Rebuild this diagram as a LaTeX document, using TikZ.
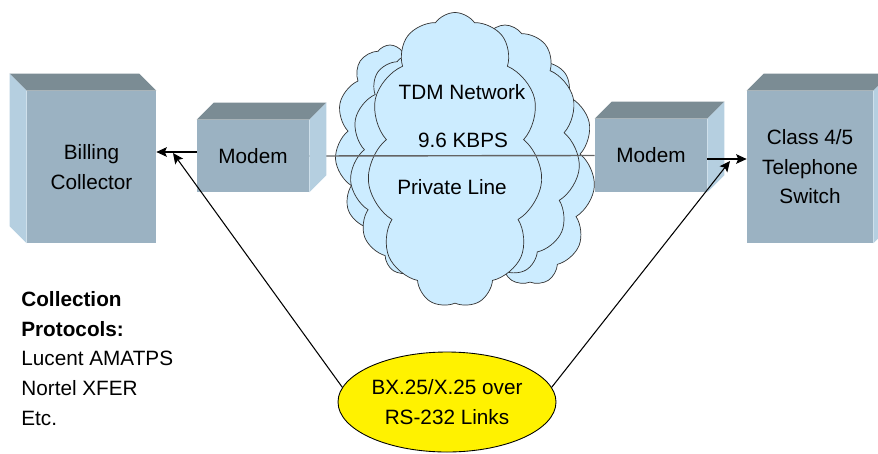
\documentclass[tikz,border=0pt]{standalone}
\usepackage{fontspec}
\setmainfont{Liberation Sans}
\usepackage{tikz}
\usetikzlibrary{
    arrows.meta,
    positioning,
    shapes.geometric,
    shapes.symbols
}
\usepackage{xcolor}

\definecolor{boxfront}{RGB}{155,178,194}
\definecolor{boxtop}{RGB}{123,140,148}
\definecolor{boxside}{RGB}{181,207,224}
\definecolor{cloudblue}{RGB}{204,236,255}
\definecolor{linegray}{RGB}{100,100,100}

\begin{document}
\begin{tikzpicture}[
        x=1cm, y=-1cm,
        >={Stealth[length=6pt,width=5.5pt,inset=1.2pt]},
        every node/.style={
            font=\fontsize{11.8}{16.8}\selectfont
        },
        front/.style={
            rectangle,
            fill=boxfront,
            align=center,
            inner sep=0pt
        },
        topface/.style={fill=boxtop},
        sideface/.style={fill=boxside},
        net/.style={
            cloud,
            cloud puffs=11,
            cloud puff arc=110,
            inner sep=0pt,
            fill=cloudblue,
            draw=black!80,
            line width=0.4pt
        },
        link/.style={draw=black, line width=0.6pt}
    ]

    \clip (0,0) rectangle (17.56,9.06);

    % network cloud, back to front
    \node[net, minimum width=2.2cm, minimum height=4.0cm] (cloudB) at (7.8,2.9) {};
    \node[net, minimum width=2.6cm, minimum height=4.6cm] (cloudA) at (10.6,3.4) {};
    \node[net, minimum width=3.0cm, minimum height=5.0cm] (cloudD) at (10.1,3.0) {};
    \node[net, minimum width=2.4cm, minimum height=4.4cm] (cloudE) at (8.2,3.3) {};
    \node[net, minimum width=3.5cm, minimum height=5.9cm] (cloudC) at (9.1,3.2) {};

    \node (tdm) at (9.24,1.84) {TDM Network};
    \node (rate) at (9.26,2.80) {9.6 KBPS};
    \node (priv) at (9.04,3.74) {Private Line};

    % boxes
    \node[front, minimum width=2.58cm, minimum height=3.04cm] (billing) at (1.83,3.34) {Billing\\Collector};
    \node[front, minimum width=2.24cm, minimum height=1.44cm] (modem1) at (5.06,3.12) {Modem};
    \node[front, minimum width=2.24cm, minimum height=1.46cm] (modem2) at (13.02,3.11) {Modem};
    \node[front, minimum width=2.52cm, minimum height=3.04cm] (switch) at (16.2,3.34) {Class 4/5\\Telephone\\Switch};

    % private line between the modems
    \draw[linegray, line width=0.8pt] (modem1.east) -- (modem2.west);

    % billing collector faces (depth to the left)
    \fill[topface] (billing.north west) -- ++(-0.34,-0.34)
        -- ([shift={(-0.34,-0.34)}]billing.north east) -- (billing.north east) -- cycle;
    \fill[sideface] (billing.north west) -- ++(-0.34,-0.34)
        -- ([shift={(-0.34,-0.34)}]billing.south west) -- (billing.south west) -- cycle;

    % modem and switch faces (depth to the right)
    \foreach \b in {modem1,modem2,switch} {
        \fill[topface] (\b.north west) -- ++(0.34,-0.34)
            -- ([shift={(0.34,-0.34)}]\b.north east) -- (\b.north east) -- cycle;
        \fill[sideface] (\b.north east) -- ++(0.34,-0.34)
            -- ([shift={(0.34,-0.34)}]\b.south east) -- (\b.south east) -- cycle;
    }

    % serial links
    \node[ellipse, draw=black, line width=0.5pt, fill=yellow, align=center,
          minimum width=4.36cm, minimum height=2.0cm, inner sep=0pt] (links) at (8.94,8.04)
          {BX.25/X.25 over\\RS-232 Links};

    \coordinate (tipL) at (3.46,3.06);
    \coordinate (tipR) at (14.60,3.22);

    \draw[link, ->] ([yshift=0.08cm]modem1.west) -- ([yshift=0.08cm]modem1.west -| billing.east);
    \draw[link, ->] ([yshift=-0.07cm]modem2.east) -- ([yshift=-0.07cm]modem2.east -| switch.west);
    \draw[link, ->] (links.172) -- (tipL);
    \draw[link, ->] (links.8) -- (tipR);

    % protocol list
    \node[anchor=base west, align=left, inner sep=0pt] (protocols) at (0.42,8.50)
        {\textbf{Collection}\\\textbf{Protocols:}\\Lucent AMATPS\\Nortel XFER\\Etc.};

\end{tikzpicture}
\end{document}
